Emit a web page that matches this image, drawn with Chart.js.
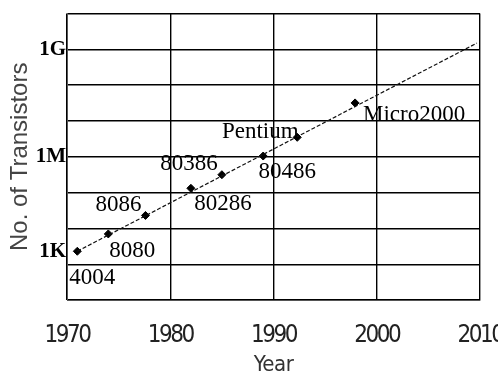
<!DOCTYPE html>
<html>
<head>
<meta charset="utf-8">
<script src="https://cdn.jsdelivr.net/npm/chart.js@4.4.1/dist/chart.umd.min.js"></script>
<style>
  html, body { margin: 0; padding: 0; background: #fff; }
  #wrap { width: 498px; height: 379px; }
</style>
</head>
<body>
<div id="wrap"><canvas id="c" width="498" height="379"></canvas></div>
<script>
// ---- data ----
const chipNames  = ['4004', '8080', '8086', '80286', '80386', '80486', 'Pentium', 'Micro2000'];
const chipYears  = [1971, 1974, 1977.6, 1982, 1985, 1989, 1992.3, 1997.9];
const chipCounts = [2300, 7000, 23000, 132000, 316000, 1050000, 3500000, 32000000];

const trendYears  = [1971, 2009.7];
const trendCounts = [2300, 1500000000];

const xTickValues = [1970, 1980, 1990, 2000, 2010];
const yTickValues = [1e2, 1e3, 1e4, 1e5, 1e6, 1e7, 1e8, 1e9, 1e10];
const yTickLabels = ['', '1K', '', '', '1M', '', '', '1G', ''];

// ---- styling: label offsets (pixels) relative to each point ----
const labelOffsets = [[15, 27], [24, 17], [-27, -10], [32, 16], [-33, -11], [24, 16], [-37, -5], [59, 12]];

const chipLabelPlugin = {
  id: 'chipLabels',
  afterDatasetsDraw(chart) {
    const ctx = chart.ctx;
    const xs = chart.scales.x, ys = chart.scales.y;
    ctx.save();
    ctx.font = '23px "Liberation Serif", "Times New Roman", serif';
    ctx.fillStyle = '#000';
    ctx.textAlign = 'center';
    ctx.textBaseline = 'middle';
    chipNames.forEach((name, i) => {
      const px = xs.getPixelForValue(chipYears[i]);
      const py = ys.getPixelForValue(chipCounts[i]);
      ctx.fillText(name, px + labelOffsets[i][0], py + labelOffsets[i][1]);
    });
    ctx.restore();
  }
};

const narrow = '"Liberation Sans Narrow", "DejaVu Sans Condensed", "DejaVu Sans", sans-serif';

// tighten the x-axis text (reference uses a very narrow face)
function condenseScale(s) {
  if (s._condensed) return;
  s._condensed = true;
  const spacing = { drawLabels: '-2.5px', drawTitle: '-0.5px' };
  Object.keys(spacing).forEach(fn => {
    const orig = s[fn];
    s[fn] = function (...args) {
      const ctx = this.ctx;
      ctx.save();
      ctx.letterSpacing = spacing[fn];
      orig.apply(this, args);
      ctx.restore();
    };
  });
}

new Chart(document.getElementById('c'), {
  type: 'scatter',
  data: {
    datasets: [
      {
        label: 'trend',
        data: trendYears.map((x, i) => ({ x, y: trendCounts[i] })),
        showLine: true,
        borderColor: '#111',
        borderWidth: 1.2,
        borderDash: [4, 2],
        pointRadius: 0,
        fill: false
      },
      {
        label: 'chips',
        data: chipYears.map((x, i) => ({ x, y: chipCounts[i] })),
        showLine: false,
        pointStyle: 'rectRot',
        pointRadius: 4,
        pointBackgroundColor: '#000',
        pointBorderColor: '#000',
        pointBorderWidth: 1
      }
    ]
  },
  options: {
    responsive: false,
    animation: false,
    devicePixelRatio: 1,
    layout: { padding: { top: 9, right: 18, left: 0, bottom: 0 } },
    plugins: { legend: { display: false }, tooltip: { enabled: false } },
    scales: {
      x: {
        type: 'linear',
        min: 1970, max: 2010,
        afterBuildTicks: s => { s.ticks = xTickValues.map(v => ({ value: v })); },
        afterFit: s => { s.height = 79; s.paddingLeft = 0; s.paddingRight = 18; condenseScale(s); },
        ticks: {
          callback: v => String(v),
          font: { family: narrow, size: 24, weight: 'normal condensed' },
          color: '#222',
          padding: 21,
          maxRotation: 0
        },
        grid: { color: '#000', lineWidth: 1.4, drawTicks: false },
        border: { color: '#555', width: 1 },
        title: {
          display: true,
          text: 'Year',
          font: { family: narrow, size: 22, weight: 'normal condensed' },
          color: '#333',
          padding: { top: 0, bottom: 1 }
        }
      },
      y: {
        type: 'logarithmic',
        min: 1e2, max: 1e10,
        afterBuildTicks: s => { s.ticks = yTickValues.map(v => ({ value: v })); },
        afterFit: s => { s.width = 67; },
        ticks: {
          callback: (v) => {
            const k = yTickValues.indexOf(v);
            const t = k >= 0 ? yTickLabels[k] : '';
            return t === '1K' ? [t, ''] : t;
          },
          font: { family: '"Liberation Serif", "Times New Roman", serif', size: 21, weight: 'bold' },
          color: '#000',
          padding: 1,
          autoSkip: false
        },
        grid: { color: '#000', lineWidth: 1.4, drawTicks: false },
        border: { color: '#555', width: 1 },
        title: {
          display: true,
          text: 'No. of Transistors',
          font: { family: '"Liberation Sans", Arial, sans-serif', size: 24 },
          color: '#444',
          padding: { top: 6, bottom: 0 }
        }
      }
    }
  },
  plugins: [chipLabelPlugin]
});
</script>
</body>
</html>
